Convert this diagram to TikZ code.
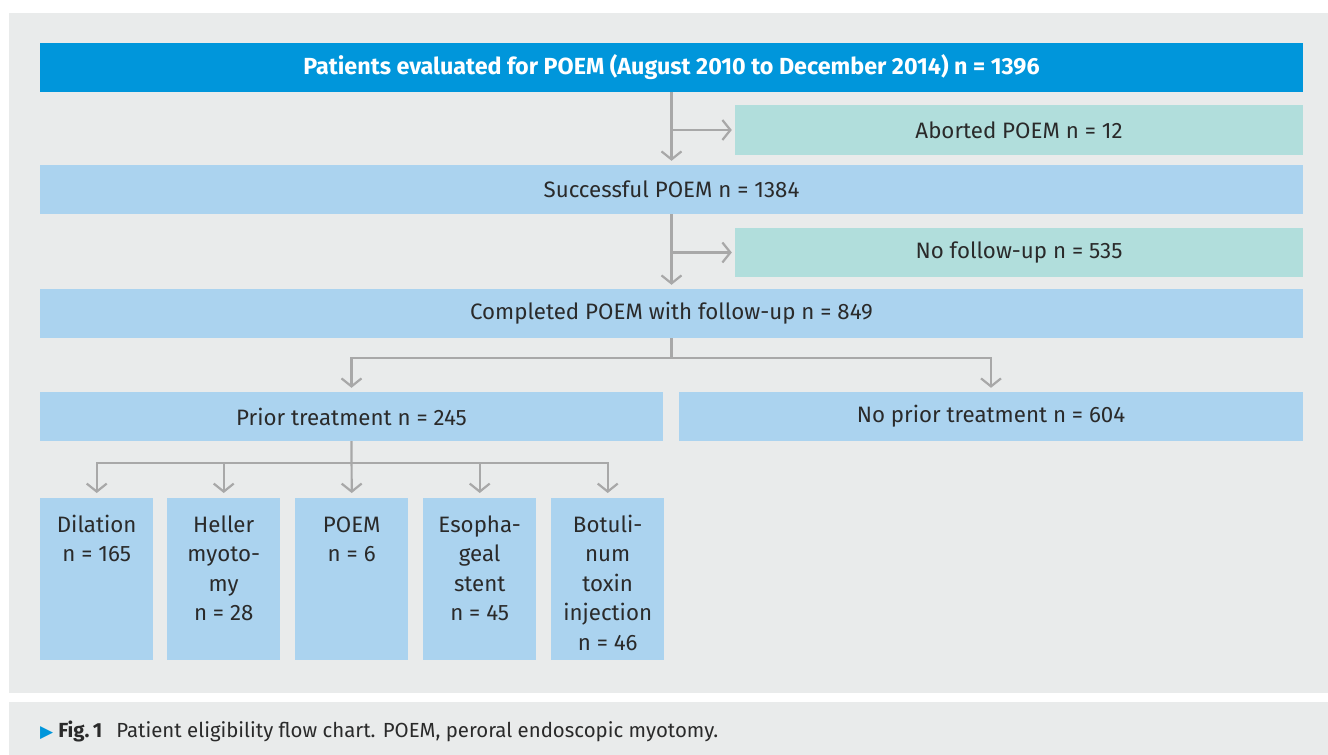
\documentclass[tikz,border=0pt]{standalone}
\usepackage{fontspec}
\setmainfont{Fira Sans}
\newfontfamily\symfont{DejaVu Sans}
\usetikzlibrary{arrows.meta}
\definecolor{bgc}{HTML}{E9EBEB}
\definecolor{topc}{HTML}{0096DB}
\definecolor{lbc}{HTML}{ABD3EF}
\definecolor{tlc}{HTML}{B1DEDC}
\definecolor{arc}{HTML}{A8A8A8}
\definecolor{txc}{HTML}{2A2A2A}
\newcommand{\bxt}[1]{\parbox[t][162pt][t]{113pt}{\centering\rule{0pt}{34pt}#1}}
\begin{document}
\begin{tikzpicture}[x=1pt,y=-1pt,
  base/.style={rectangle, inner sep=0pt, text=txc, font=\fontsize{22.3}{29.5}\selectfont},
  topbox/.style={base, fill=topc, text=white, font=\fontsize{23.3}{29.5}\selectfont\bfseries},
  lbox/.style={base, fill=lbc},
  tbox/.style={base, fill=tlc},
  small/.style={base, fill=lbc, minimum width=113pt, minimum height=162pt, anchor=north west},
  conn/.style={draw=arc, line width=2.2pt},
  arr/.style={conn, -{Straight Barb[length=8pt,width=20pt,line width=2.2pt]}}]
\useasboundingbox (0,0) rectangle (1328,755);
\fill[white] (0,0) rectangle (1328,755);
\fill[bgc] (9,13) rectangle (1328,693);
\fill[bgc] (9,702) rectangle (1328,755);

\node[topbox, minimum width=1263pt, minimum height=49pt] (eval) at (671.5,67.5) {Patients evaluated for POEM (August 2010 to December 2014) n = 1396};
\node[tbox, minimum width=568pt, minimum height=50pt] (abort) at (1019,130) {Aborted POEM n = 12};
\node[lbox, minimum width=1263pt, minimum height=49pt] (succ) at (671.5,189.5) {Successful POEM n = 1384};
\node[tbox, minimum width=568pt, minimum height=49pt] (nofu) at (1019,252.5) {No follow-up n = 535};
\node[lbox, minimum width=1263pt, minimum height=49pt] (compl) at (671.5,313.5) {Completed POEM with follow-up n = 849};
\node[lbox, minimum width=623pt, minimum height=49pt] (prior) at (351.5,416.5) {Prior treatment n = 245};
\node[lbox, minimum width=624pt, minimum height=49pt] (noprior) at (991,416.5) {No prior treatment n = 604};

\node[small] (b1) at (40,498) {\bxt{Dilation\\n = 165}};
\node[small] (b2) at (167,498) {\bxt{Heller\\myoto-\\my\\n = 28}};
\node[small] (b3) at (295,498) {\bxt{POEM\\n = 6}};
\node[small] (b4) at (423,498) {\bxt{Esopha-\\geal\\stent\\n = 45}};
\node[small] (b5) at (551,498) {\bxt{Botuli-\\num\\toxin\\injection\\n = 46}};

\draw[arr] (eval.south) -- ([yshift=4pt]succ.north);
\draw[arr] (eval.south |- abort.west) -- ([xshift=-3pt]abort.west);
\draw[arr] (succ.south) -- ([yshift=4pt]compl.north);
\draw[arr] (succ.south |- nofu.west) -- ([xshift=-3pt]nofu.west);

\draw[arr] (compl.south) -- ++(0,20) -| ([yshift=4pt]prior.north);
\draw[arr] (compl.south) ++(0,20) -| ([yshift=4pt]noprior.north);

\draw[arr] (prior.south) -- ([yshift=5pt]b3.north);
\draw[arr] (prior.south) ++(0,22) -| ([yshift=5pt]b1.north);
\draw[arr] (prior.south) ++(0,22) -| ([yshift=5pt]b2.north);
\draw[arr] (prior.south) ++(0,22) -| ([yshift=5pt]b4.north);
\draw[arr] (prior.south) ++(0,22) -| ([yshift=5pt]b5.north);

\node[anchor=base west, inner sep=0pt, text=txc, font=\fontsize{20.4}{22}\selectfont] (cap) at (40,737)
  {{\symfont\fontsize{17}{18}\selectfont\textcolor{topc}{▶}}\hspace{5pt}\textbf{Fig.\,1}\hspace{14pt}Patient eligibility flow chart. POEM, peroral endoscopic myotomy.};
\end{tikzpicture}
\end{document}
